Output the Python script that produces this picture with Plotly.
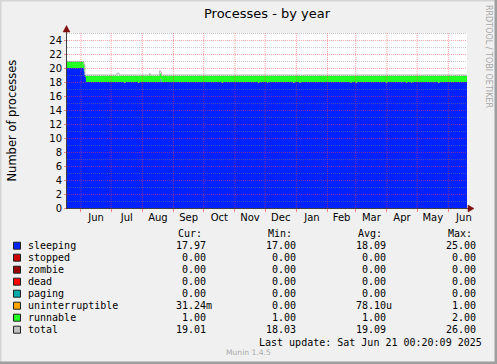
import plotly.graph_objects as go
import pandas as pd

# ---------------- data ----------------
dates = [
    "2024-05-18 04:30", "2024-06-04", "2024-06-05", "2024-06-06",
    "2024-07-07", "2024-07-09", "2024-07-14", "2024-07-15",
    "2024-07-28", "2024-07-29", "2024-08-08", "2024-08-09",
    "2024-08-18", "2024-08-19", "2024-08-20",
    "2024-10-19", "2024-10-20", "2024-11-24", "2024-11-25",
    "2024-12-03", "2024-12-04", "2024-12-29", "2024-12-30",
    "2025-01-04", "2025-01-05", "2025-02-24", "2025-02-25",
    "2025-03-01", "2025-03-02", "2025-03-31", "2025-04-01",
    "2025-04-20", "2025-04-21", "2025-04-25", "2025-04-26",
    "2025-05-22", "2025-05-23", "2025-06-19 13:10",
]
sleeping = [20.0, 19.5, 18.7, 18.0, 18.0, 18.0, 17.85, 18.0,
            17.85, 18.0, 18.0, 18.0, 18.0, 18.45, 18.0,
            17.85, 18.0, 17.85, 18.0, 17.85, 18.0, 17.85, 18.0,
            17.85, 18.0, 17.85, 18.0, 17.85, 18.0, 17.85, 18.0,
            17.85, 18.0, 17.85, 18.0, 17.85, 18.0, 18.0]
runnable = [0.9, 1.0, 0.3, 0.9, 0.9, 0.9, 1.05, 0.9,
            1.05, 0.9, 1.15, 0.9, 1.2, 0.8, 0.9,
            1.05, 0.9, 1.05, 0.9, 1.05, 0.9, 1.05, 0.9,
            1.05, 0.9, 1.05, 0.9, 1.05, 0.9, 1.05, 0.9,
            1.05, 0.9, 1.05, 0.9, 1.05, 0.9, 0.9]
total = [20.95, 20.5, 19.0, 19.0, 19.25, 19.0, 19.0, 19.0,
         19.0, 19.0, 19.2, 19.0, 19.6, 19.45, 19.0,
         19.0, 19.0, 19.0, 19.0, 19.0, 19.0, 19.0, 19.0,
         19.0, 19.0, 19.0, 19.0, 19.0, 19.0, 19.0, 19.0,
         19.0, 19.0, 19.0, 19.0, 19.0, 19.0, 19.0]
zero_dates = ["2024-05-18 04:30", "2025-06-19 13:10"]
zero_vals = [0.0, 0.0]

y_ticks = [0, 2, 4, 6, 8, 10, 12, 14, 16, 18, 20, 22, 24]
x_range = ["2024-05-18 04:30", "2025-06-19 13:10"]

legend_labels = ["sleeping", "stopped", "zombie", "dead", "paging",
                 "uninterruptible", "runnable", "total"]
legend_colors = ["#0022ff", "#cc0000", "#990000", "#ff0000", "#00aaaa",
                 "#ffa500", "#22ff22", "#c0c0c0"]
cur_vals = ["17.97", "0.00", "0.00", "0.00", "0.00", "31.24m", "1.00", "19.01"]
min_vals = ["17.00", "0.00", "0.00", "0.00", "0.00", "0.00", "1.00", "18.03"]
avg_vals = ["18.09", "0.00", "0.00", "0.00", "0.00", "78.10u", "1.00", "19.09"]
max_vals = ["25.00", "0.00", "0.00", "0.00", "0.00", "1.00", "2.00", "26.00"]

# ---------------- geometry helpers (pixels -> paper) ----------------
W, H = 497, 364
PL, PT, PW, PH = 67, 33, 400, 175


def fx(x):
    return (x - PL) / PW


def fy(y):
    return (PT + PH - y) / PH


fig = go.Figure()

stack_series = [
    ("sleeping", dates, sleeping, legend_colors[0]),
    ("stopped", zero_dates, zero_vals, legend_colors[1]),
    ("zombie", zero_dates, zero_vals, legend_colors[2]),
    ("dead", zero_dates, zero_vals, legend_colors[3]),
    ("paging", zero_dates, zero_vals, legend_colors[4]),
    ("uninterruptible", zero_dates, zero_vals, legend_colors[5]),
    ("runnable", dates, runnable, legend_colors[6]),
]
for name, xs, ys, col in stack_series:
    fig.add_trace(go.Scatter(
        x=xs, y=ys, name=name, mode="lines", stackgroup="procs",
        line=dict(width=0, shape="hv", color=col), fillcolor=col,
        showlegend=False, hoverinfo="skip"))

fig.add_trace(go.Scatter(
    x=dates, y=total, name="total", mode="lines",
    line=dict(width=1, shape="hv", color="#b8b8b8"),
    showlegend=False, hoverinfo="skip"))

shapes = []
# grid lines drawn above the areas (as rrdtool does)
MAJ = "rgba(255,60,60,0.45)"
MIN = "rgba(130,130,130,0.45)"
for v in range(1, 26):
    row = PT + (25 - v) * 7
    col = MAJ if v in y_ticks else MIN
    shapes.append(dict(type="line", xref="paper", yref="paper",
                       x0=0, x1=1, y0=fy(row + 0.5), y1=fy(row + 0.5),
                       line=dict(color=col, width=1, dash="1px,1px"),
                       layer="above"))
month_starts = pd.date_range("2024-06-01", "2025-06-01", freq="MS")
for m in month_starts:
    shapes.append(dict(type="line", xref="x", yref="paper",
                       x0=m, x1=m, y0=0, y1=1,
                       line=dict(color=MAJ, width=1, dash="1px,1px"),
                       layer="above"))

AX = "#404040"
ARROW = "#801010"
# axes lines with arrows
shapes.append(dict(type="line", xref="paper", yref="paper",
                   x0=fx(66.5), x1=fx(66.5), y0=fy(208.5), y1=fy(31),
                   line=dict(color=AX, width=1), layer="above"))
shapes.append(dict(type="line", xref="paper", yref="paper",
                   x0=fx(66), x1=fx(469), y0=fy(208.5), y1=fy(208.5),
                   line=dict(color=AX, width=1), layer="above"))
shapes.append(dict(type="path", xref="paper", yref="paper",
                   path=f"M {fx(66.5)},{fy(25.5)} L {fx(63)},{fy(32)} L {fx(70)},{fy(32)} Z",
                   fillcolor=ARROW, line=dict(color=ARROW, width=0.5), layer="above"))
shapes.append(dict(type="path", xref="paper", yref="paper",
                   path=f"M {fx(474)},{fy(208.5)} L {fx(468)},{fy(205)} L {fx(468)},{fy(212)} Z",
                   fillcolor=ARROW, line=dict(color=ARROW, width=0.5), layer="above"))

# image border (rrdtool shading)
shapes.append(dict(type="rect", xref="paper", yref="paper",
                   x0=fx(0), x1=fx(1.5), y0=fy(H), y1=fy(0),
                   fillcolor="#d4d4d4", line=dict(width=0), layer="above"))
shapes.append(dict(type="rect", xref="paper", yref="paper",
                   x0=fx(0), x1=fx(W), y0=fy(1.5), y1=fy(0),
                   fillcolor="#d4d4d4", line=dict(width=0), layer="above"))
shapes.append(dict(type="rect", xref="paper", yref="paper",
                   x0=fx(W - 2.5), x1=fx(W), y0=fy(H), y1=fy(0),
                   fillcolor="#9e9e9e", line=dict(width=0), layer="above"))
shapes.append(dict(type="rect", xref="paper", yref="paper",
                   x0=fx(0), x1=fx(W), y0=fy(H), y1=fy(H - 2.5),
                   fillcolor="#9e9e9e", line=dict(width=0), layer="above"))

annotations = []
SANS = "DejaVu Sans"
MONO = "DejaVu Sans Mono"


def ann(text, x, y, size, family=SANS, color="#000000", xanchor="left",
        yanchor="middle", angle=0):
    annotations.append(dict(text=text, x=fx(x), y=fy(y), xref="paper", yref="paper",
                            showarrow=False, xanchor=xanchor, yanchor=yanchor,
                            textangle=angle, borderpad=0,
                            font=dict(family=family, size=size, color=color)))


ann("Processes - by year", 267, 13.5, 13, xanchor="center")
ann("Number of processes", 11, 120.5, 11.5, xanchor="center", angle=-90)
ann("RRDTOOL / TOBI OETIKER", 488.5, 56.5, 8, color="#a8a8a8",
    xanchor="center", angle=90)

# legend table
row_y0, row_dy = 245.7, 12.0
for i, (lab, col) in enumerate(zip(legend_labels, legend_colors)):
    yc = row_y0 + i * row_dy
    shapes.append(dict(type="rect", xref="paper", yref="paper",
                       x0=fx(13.5), x1=fx(20.5), y0=fy(yc + 3.5), y1=fy(yc - 3.5),
                       fillcolor=col, line=dict(color="#202020", width=1),
                       layer="above"))
    ann(lab, 26.5, yc, 10, family=MONO)

col_headers = ["Cur:", "Min:", "Avg:", "Max:"]
col_left = [176.5, 267.3, 357.3, 447.0]
col_right = [206.8, 297.3, 387.3, 477.3]
for h, xl in zip(col_headers, col_left):
    ann(h, xl, 233.3, 10, family=MONO)
for vals, xr in zip([cur_vals, min_vals, avg_vals, max_vals], col_right):
    for i, v in enumerate(vals):
        yc = row_y0 + i * row_dy
        xe = xr + 6.0 if v[-1].isalpha() else xr
        ann(v, xe, yc, 10, family=MONO, xanchor="right")

ann("Last update: Sat Jun 21 00:20:09 2025", 483.3, 342.3, 10,
    family=MONO, xanchor="right")
ann("Munin 1.4.5", 248.5, 352.7, 7.6, color="#aaaaaa", xanchor="center")

fig.update_layout(
    width=W, height=H,
    margin=dict(l=PL, r=W - PL - PW, t=PT, b=H - PT - PH, pad=0, autoexpand=False),
    paper_bgcolor="#f0f0f0", plot_bgcolor="#ffffff",
    showlegend=False,
    shapes=shapes, annotations=annotations,
    xaxis=dict(type="date", range=x_range, showgrid=False, zeroline=False,
               showline=False, dtick="M1", tick0="2024-06-01",
               ticklabelmode="period", tickformat="%b",
               ticks="outside", ticklen=3, tickcolor="rgba(255,60,60,0.6)",
               ticklabelstandoff=-3,
               tickfont=dict(family=SANS, size=10, color="#000000"),
               fixedrange=True),
    yaxis=dict(range=[0, 25], tickvals=y_ticks, showgrid=False, zeroline=False,
               showline=False, ticks="outside", ticklen=2,
               tickcolor="rgba(255,60,60,0.6)",
               tickfont=dict(family=SANS, size=10, color="#000000"),
               fixedrange=True),
)

fig.write_html(
    "out.html",
    config={"displayModeBar": False},
    post_script="document.body.style.margin='0';document.body.style.overflow='hidden';",
)
